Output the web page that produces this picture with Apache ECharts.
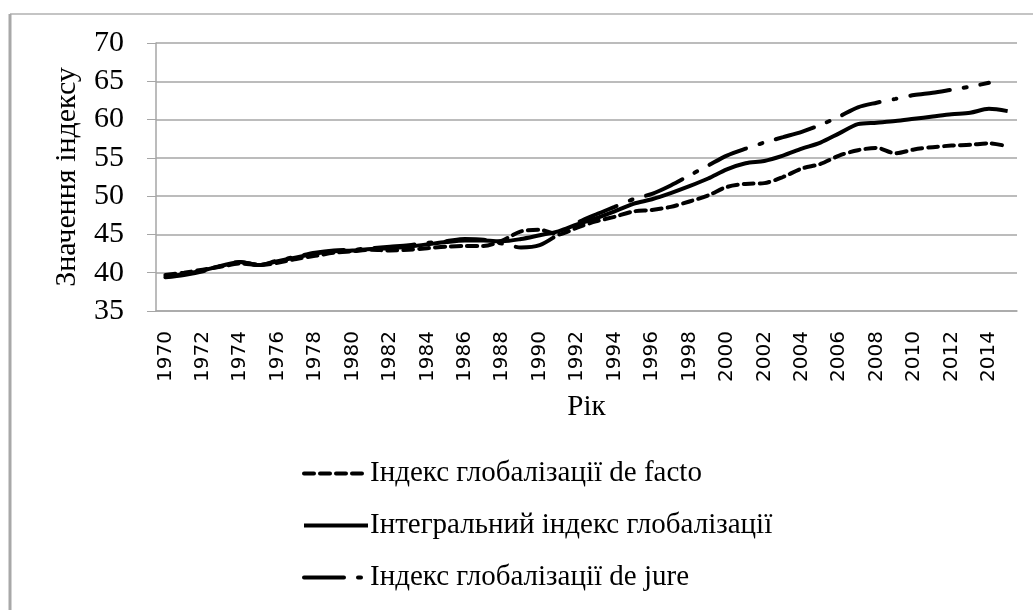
<!DOCTYPE html>
<html>
<head>
<meta charset="utf-8">
<script src="https://cdn.jsdelivr.net/npm/echarts@6/dist/echarts.min.js"></script>
<style>
  html, body { margin: 0; padding: 0; background: #fff; }
  #main { width: 1033px; height: 610px; }
</style>
</head>
<body>
<div id="main"></div>
<script>
// роки 1970-2015
var years = [];
for (var y = 1970; y <= 2015; y++) years.push(String(y));

// Інтегральний індекс глобалізації
var integralIdx = [39.5, 39.8, 40.3, 40.9, 41.4, 41.0, 41.5, 42.0, 42.5, 42.8,
                   42.9, 43.1, 43.2, 43.4, 43.7, 44.0, 44.2, 44.2, 44.1, 44.4,
                   44.9, 45.4, 46.3, 47.1, 48.0, 49.0, 49.6, 50.4, 51.3, 52.3,
                   53.5, 54.3, 54.6, 55.3, 56.2, 57.0, 58.2, 59.4, 59.6, 59.8,
                   60.1, 60.4, 60.7, 60.9, 61.4, 61.1];
// Індекс глобалізації de facto
var deFacto = [39.7, 40.0, 40.4, 40.8, 41.2, 41.0, 41.3, 41.8, 42.2, 42.6,
               42.8, 43.0, 42.9, 43.0, 43.2, 43.4, 43.5, 43.5, 44.2, 45.4,
               45.6, 45.0, 45.9, 46.7, 47.3, 48.0, 48.2, 48.6, 49.3, 50.1,
               51.2, 51.6, 51.7, 52.5, 53.6, 54.2, 55.3, 56.0, 56.3, 55.6,
               56.1, 56.4, 56.6, 56.7, 56.9, 56.5];
// Індекс глобалізації de jure
var deJure = [39.4, 39.7, 40.2, 40.9, 41.4, 41.0, 41.6, 42.1, 42.6, 42.9,
              43.0, 43.2, 43.4, 43.6, 43.9, 44.1, 44.4, 44.3, 43.8, 43.3,
              43.6, 45.0, 46.5, 47.6, 48.6, 49.6, 50.3, 51.4, 52.7, 54.0,
              55.3, 56.2, 57.0, 57.7, 58.4, 59.3, 60.4, 61.6, 62.2, 62.7,
              63.2, 63.5, 63.9, 64.3, 64.8, null];

var seriesNames = ['Індекс глобалізації de facto',
                   'Інтегральний індекс глобалізації',
                   'Індекс глобалізації de jure'];

var serif = '"Liberation Serif", "DejaVu Serif", serif';
var gridColor = '#a6a6a6';

var option = {
  backgroundColor: '#fff',
  animation: false,
  graphic: [
    { type: 'line', shape: { x1: 10, y1: 14, x2: 1033, y2: 14 }, style: { stroke: '#c4c4c4', lineWidth: 2 } },
    { type: 'line', shape: { x1: 10, y1: 14, x2: 10, y2: 610 }, style: { stroke: '#a8a8a8', lineWidth: 3 } }
  ],
  grid: { left: 156, right: 16, top: 43, bottom: 299 },
  legend: {
    orient: 'vertical',
    left: 297,
    top: 454,
    itemWidth: 64,
    itemHeight: 14,
    itemGap: 23,
    itemStyle: { opacity: 0 },
    lineStyle: { width: 4 },
    textStyle: { fontFamily: serif, fontSize: 29, color: '#000', padding: [0, 0, 0, -3] },
    data: seriesNames
  },
  xAxis: {
    type: 'category',
    data: years,
    boundaryGap: true,
    name: 'Рік',
    nameLocation: 'middle',
    nameGap: 82,
    nameTextStyle: { fontFamily: serif, fontSize: 29, color: '#000' },
    axisLine: { lineStyle: { color: gridColor, width: 1.5 } },
    axisTick: { alignWithLabel: false, interval: 0, length: 8, lineStyle: { color: gridColor } },
    axisLabel: {
      interval: 1,
      rotate: 90,
      margin: 20,
      fontFamily: '"DejaVu Sans", sans-serif',
      fontSize: 20,
      color: '#000'
    }
  },
  yAxis: {
    type: 'value',
    min: 35,
    max: 70,
    interval: 5,
    name: 'Значення індексу',
    nameLocation: 'middle',
    nameGap: 74,
    nameRotate: 90,
    nameTextStyle: { fontFamily: serif, fontSize: 30, color: '#000' },
    axisLine: { show: true, lineStyle: { color: gridColor, width: 1.5 } },
    axisTick: { show: true, inside: false, length: 9, lineStyle: { color: gridColor } },
    axisLabel: { margin: 32, fontFamily: serif, fontSize: 30, color: '#000' },
    splitLine: { lineStyle: { color: gridColor, width: 1.5 } }
  },
  series: [
    {
      name: seriesNames[0],
      type: 'line',
      data: deFacto,
      symbol: 'none',
      smooth: 0.3,
      z: 3,
      lineStyle: { color: '#000', width: 4, type: [10, 6], cap: 'round' },
      itemStyle: { color: '#000' }
    },
    {
      name: seriesNames[1],
      type: 'line',
      data: integralIdx,
      symbol: 'none',
      smooth: 0.3,
      z: 4,
      lineStyle: { color: '#000', width: 4 },
      itemStyle: { color: '#000' }
    },
    {
      name: seriesNames[2],
      type: 'line',
      data: deJure,
      symbol: 'none',
      smooth: 0.3,
      z: 2,
      lineStyle: { color: '#000', width: 4, type: [40, 14, 3, 14], cap: 'round' },
      itemStyle: { color: '#000' }
    }
  ]
};

var myChart = echarts.init(document.getElementById('main'));
myChart.setOption(option, true);
</script>
</body>
</html>
